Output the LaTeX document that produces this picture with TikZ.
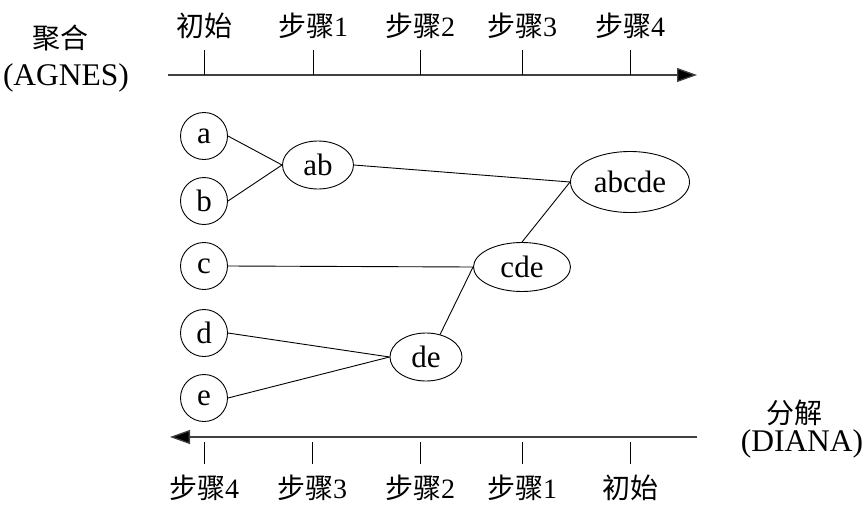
\documentclass[tikz,border=0pt]{standalone}
\usepackage{fontspec}
\setmainfont{Liberation Serif}
\newfontfamily\cjk{Noto Sans CJK SC}
\usetikzlibrary{shapes.geometric,arrows.meta}
\tikzset{
  lbl/.style={font=\fontsize{28}{32}\selectfont, inner sep=0pt},
  cjkl/.style={font=\fontsize{28}{32}\selectfont\cjk, inner sep=0pt},
  big/.style={font=\fontsize{31.5}{36}\selectfont, inner sep=0pt},
  leaf/.style={circle, draw, line width=0.9pt, minimum size=47pt, inner sep=0pt, font=\fontsize{31}{34}\selectfont},
  grp/.style={ellipse, draw, line width=0.9pt, minimum height=48pt, inner sep=0pt, font=\fontsize{31}{34}\selectfont},
  link/.style={line width=0.9pt},
  axis/.style={line width=1.3pt, draw=black!75, -{Triangle[length=20pt,width=14pt,fill=black]}},
  tick/.style={line width=0.9pt}
}
\begin{document}
\begin{tikzpicture}[x=1pt,y=-1pt]
\useasboundingbox (0,0) rectangle (862,509);
% top axis
\coordinate (ts) at (168,75);
\coordinate (te) at (697,75);
\draw[axis] (ts) -- (te);
\foreach \x/\t in {204/{\cjk 初始}, 313/{\cjk 步骤}1, 420/{\cjk 步骤}2, 522/{\cjk 步骤}3, 630/{\cjk 步骤}4}{
  \coordinate (tt\x) at (\x,50);
  \coordinate (tb\x) at (\x,75);
  \draw[tick] (tt\x) -- (tb\x);
  \node[lbl] (tl\x) at (\x,26) {\t};
}
\node[cjkl] (agg) at (60,38) {聚合};
\node[big] (agnes) at (66,78) {(AGNES)};
% bottom axis
\coordinate (bs) at (697,437);
\coordinate (be) at (170,437);
\draw[axis] (bs) -- (be);
\foreach \x/\t in {204/{\cjk 步骤}4, 312/{\cjk 步骤}3, 420/{\cjk 步骤}2, 522/{\cjk 步骤}1, 630/{\cjk 初始}}{
  \coordinate (bt\x) at (\x,442);
  \coordinate (bb\x) at (\x,464);
  \draw[tick] (bt\x) -- (bb\x);
  \node[lbl] (bl\x) at (\x,488) {\t};
}
\node[cjkl] (div) at (794,413) {分解};
\node[big] (diana) at (802,444) {(DIANA)};
% nodes
\node[leaf] (a) at (204,136) {a};
\node[leaf] (b) at (204,201) {b};
\node[leaf] (c) at (204,266) {c};
\node[leaf] (d) at (204,333) {d};
\node[leaf] (e) at (204,398) {e};
\node[grp, minimum width=71pt] (ab) at (318,165) {ab};
\node[grp, minimum width=72pt] (de) at (426,357) {de};
\node[grp, minimum width=97pt, minimum height=49pt] (cde) at (522,267) {cde};
\node[grp, minimum width=119pt, minimum height=61pt] (abcde) at (630,182) {abcde};
% links
\draw[link] (a.east) -- (ab.west);
\draw[link] (b.east) -- (ab.west);
\draw[link] (ab.east) -- (abcde.west);
\draw[link] (c.east) -- (cde.west);
\draw[link] (d.east) -- (de.west);
\draw[link] (e.east) -- (de.west);
\draw[link] (de.58) -- (cde.west);
\draw[link] (cde.north) -- (abcde.west);
\end{tikzpicture}
\end{document}
